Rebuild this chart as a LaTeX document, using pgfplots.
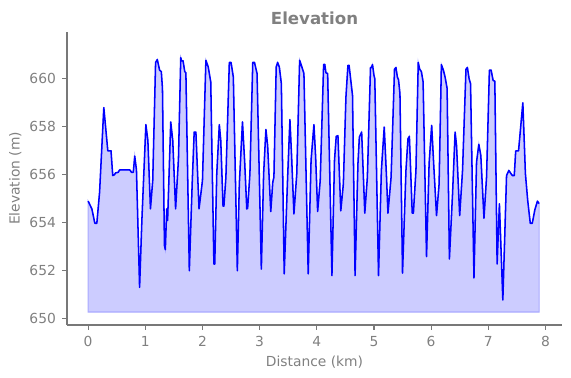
\documentclass[border=0pt]{standalone}
\usepackage{fontspec}
\setmainfont{DejaVu Sans}
\usepackage{pgfplots}
\usepackage{pgfplotstable}
\pgfplotsset{compat=1.18}
\usepgfplotslibrary{fillbetween}
\definecolor{txtgray}{RGB}{128,128,128}
\definecolor{spinegray}{RGB}{120,120,120}
\definecolor{fillblue}{RGB}{204,204,255}
\definecolor{edgeblue}{RGB}{170,170,255}
\pgfplotstableread{
d e
0 654.9
0.065 654.58
0.117 653.98
0.152 653.98
0.2 655.27
0.274 658.8
0.344 657.0
0.4 657.0
0.43 655.97
0.46 656.0
0.48 656.08
0.525 656.1
0.55 656.2
0.73 656.2
0.76 656.1
0.79 656.1
0.815 656.78
0.845 656.2
0.9 651.31
0.94 654.1
1.01 658.09
1.045 657.43
1.09 654.58
1.13 655.76
1.18 660.68
1.21 660.8
1.25 660.36
1.28 660.3
1.3 659.6
1.335 653.05
1.35 652.88
1.375 654.58
1.39 654.1
1.445 658.2
1.48 657.43
1.53 654.58
1.58 656.67
1.62 660.88
1.635 660.75
1.66 660.75
1.69 660.3
1.71 660.25
1.77 652.0
1.82 655.62
1.855 657.78
1.885 657.78
1.94 654.58
2.0 655.76
2.06 660.77
2.1 660.5
2.145 659.87
2.2 652.28
2.215 652.28
2.25 656.04
2.295 658.09
2.32 657.43
2.36 654.69
2.375 654.69
2.41 655.9
2.47 660.68
2.5 660.68
2.54 660.07
2.61 652.0
2.645 655.62
2.70 658.2
2.74 656.46
2.775 654.58
2.79 654.6
2.83 656.04
2.88 660.68
2.91 660.68
2.955 660.22
3.03 652.07
3.07 656.04
3.11 657.89
3.14 657.22
3.195 654.47
3.23 655.69
3.25 655.9
3.29 660.49
3.315 660.68
3.345 660.49
3.38 659.8
3.43 651.87
3.49 655.9
3.53 658.3
3.56 656.74
3.6 654.37
3.65 656.04
3.70 660.77
3.73 660.56
3.775 660.22
3.85 651.87
3.9 656.6
3.95 658.09
3.98 656.74
4.015 654.47
4.06 655.76
4.12 660.6
4.14 660.6
4.16 660.25
4.19 660.22
4.265 651.8
4.31 656.6
4.34 657.6
4.37 657.63
4.42 654.5
4.465 655.62
4.51 659.24
4.545 660.56
4.565 660.56
4.625 659.31
4.67 651.8
4.72 656.46
4.745 657.57
4.785 657.78
4.84 654.4
4.885 655.9
4.94 660.47
4.955 660.47
4.975 660.59
5.0 660.15
5.015 660.0
5.08 651.8
5.13 656.18
5.18 657.99
5.22 655.9
5.245 654.4
5.30 655.9
5.36 660.4
5.385 660.47
5.41 660.07
5.43 659.96
5.455 659.38
5.5 651.9
5.56 656.18
5.595 657.5
5.62 657.6
5.67 654.4
5.69 654.4
5.735 656.18
5.775 660.68
5.80 660.4
5.83 660.3
5.86 659.87
5.92 652.59
5.965 656.46
6.01 658.06
6.045 656.46
6.095 654.3
6.14 655.62
6.18 660.59
6.215 660.36
6.245 660.07
6.28 659.6
6.32 652.49
6.375 655.2
6.42 657.78
6.445 657.22
6.50 654.3
6.55 656.18
6.61 660.4
6.635 660.47
6.665 660.0
6.69 659.8
6.75 651.7
6.795 656.53
6.835 657.27
6.87 656.8
6.925 654.19
6.97 655.9
7.02 660.36
7.05 660.36
7.085 659.93
7.115 659.9
7.155 652.28
7.195 654.79
7.255 650.78
7.32 655.97
7.36 656.18
7.42 655.97
7.455 655.97
7.48 656.99
7.53 657.0
7.605 659.0
7.65 656.04
7.69 654.93
7.735 653.98
7.77 653.98
7.815 654.54
7.86 654.9
7.89 654.8
}\elev
\begin{document}
\begin{tikzpicture}
\begin{axis}[
  scale only axis,
  width=4.95in, height=2.93in,
  xmin=-0.37, xmax=8.29,
  ymin=649.74, ymax=661.95,
  axis x line*=bottom, axis y line*=left,
  axis line style={-, draw=spinegray, line width=0.8bp},
  tick align=outside,
  major tick length=3.5bp,
  tick style={draw=spinegray, line width=0.8bp},
  xtick={0,1,...,8}, ytick={650,652,...,660},
  /pgf/number format/assume math mode=true,
  /pgf/number format/.cd, fixed, 1000 sep={}, /pgfplots/.cd,
  ticklabel style={font=\fontsize{10}{12}\selectfont, text=txtgray},
  xticklabel style={yshift=-1bp},
  yticklabel style={xshift=-1bp},
  xlabel={Distance (km)}, ylabel={Elevation (m)},
  label style={font=\fontsize{10}{12}\selectfont, text=txtgray},
  ylabel style={yshift=-1bp},
  title={\textbf{Elevation}},
  title style={font=\fontsize{12}{14}\selectfont, text=txtgray, yshift=-0.055in},
  clip=false,
]
\addplot[name path=curve, draw=none, forget plot] table[x=d, y=e] {\elev};
\addplot[name path=base, draw=none, forget plot] coordinates {(0,650.28) (7.89,650.28)};
\addplot[fill=fillblue, draw=edgeblue, line width=0.8bp] fill between[of=curve and base];
\addplot[blue, line width=1.1bp, line join=round] table[x=d, y=e] {\elev};
\end{axis}
\path (current axis.south west) ++(-0.67in,-0.53in) (current axis.north east) ++(0.09in,0.32in);
\end{tikzpicture}
\end{document}
